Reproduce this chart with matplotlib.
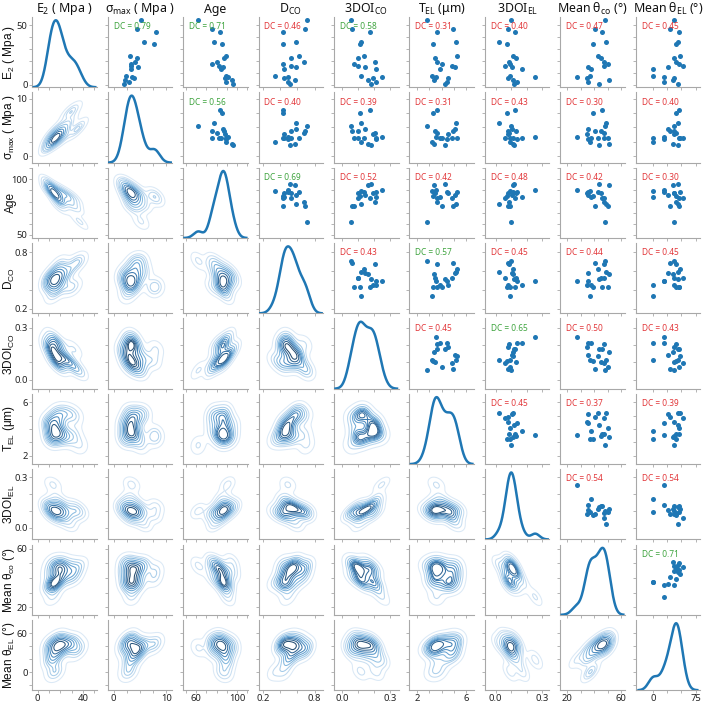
import numpy as np
import matplotlib
matplotlib.use("Agg")
import matplotlib.pyplot as plt
from matplotlib.colors import LinearSegmentedColormap
import seaborn as sns

# ---------------- data (one value per specimen) ----------------
E2 = [54.2, 46.4, 44.1, 35.7, 34.0, 24.2, 22.8, 18.8, 17.4, 16.0, 14.9, 13.2, 7.6, 7.0, 5.9, 4.2, 2.2, 0.8]
sigma_max = [5.2, 4.4, 8.0, 5.8, 7.6, 3.1, 4.4, 4.0, 3.2, 3.2, 4.7, 3.2, 2.4, 3.4, 3.8, 2.1, 2.9, 2.0]
age = [62.0, 75.9, 83.4, 77.8, 85.0, 88.8, 87.5, 80.0, 75.9, 82.8, 85.9, 84.4, 89.4, 90.7, 87.8, 94.8, 88.8, 95.7]
d_co = [0.71, 0.69, 0.43, 0.59, 0.43, 0.62, 0.53, 0.68, 0.43, 0.53, 0.58, 0.45, 0.34, 0.49, 0.45, 0.57, 0.49, 0.52]
doi_co = [0.054, 0.060, 0.177, 0.115, 0.109, 0.135, 0.100, 0.206, 0.076, 0.098, 0.143, 0.212, 0.115, 0.248, 0.191, 0.161, 0.214, 0.179]
t_el = [2.77, 4.89, 3.64, 5.18, 3.27, 5.23, 3.46, 3.59, 4.04, 4.81, 5.10, 3.83, 3.22, 3.56, 4.54, 3.38, 4.41, 4.30]
doi_el = [0.099, 0.083, 0.126, 0.022, 0.074, 0.114, 0.129, 0.087, 0.095, 0.060, 0.103, 0.172, 0.095, 0.256, 0.080, 0.110, 0.137, 0.122]
theta_co = [48.3, 40.5, 45.7, 48.8, 39.5, 42.6, 44.8, 47.1, 50.2, 47.6, 35.7, 37.4, 37.1, 26.9, 35.0, 50.7, 35.2, 43.8]
theta_el = [37.4, 30.2, 45.8, 44.1, 41.3, 47.5, 36.9, 40.2, 45.2, 52.5, 26.2, 0.0, 0.6, 19.0, 36.9, 34.6, 19.0, 44.7]

titles = [r"E$_{\mathregular{2}}$ ( Mpa )", r"σ$_{\mathregular{max}}$ ( Mpa )", "Age",
          r"D$_{\mathregular{CO}}$", r"3DOI$_{\mathregular{CO}}$", r"T$_{\mathregular{EL}}$ (μm)",
          r"3DOI$_{\mathregular{EL}}$", r"Mean θ$_{\mathregular{co}}$ (°)", r"Mean θ$_{\mathregular{EL}}$ (°)"]
ylabels = [r"E$_{\mathregular{2}}$ ( Mpa )", r"σ$_{\mathregular{max}}$ ( Mpa )", "Age",
           r"D$_{\mathregular{CO}}$", r"3DOI$_{\mathregular{CO}}$", r"T$_{\mathregular{EL}}$ (μm)",
           r"3DOI$_{\mathregular{EL}}$", r"Mean θ$_{\mathregular{co}}$ (°)", r"Mean θ$_{\mathregular{EL}}$ (°)"]

# distance correlation shown in the upper triangle, row by row
dc_row0 = [0.79, 0.71, 0.46, 0.58, 0.31, 0.40, 0.47, 0.45]
dc_row1 = [0.56, 0.40, 0.39, 0.31, 0.43, 0.30, 0.40]
dc_row2 = [0.69, 0.52, 0.42, 0.48, 0.42, 0.30]
dc_row3 = [0.43, 0.57, 0.45, 0.44, 0.45]
dc_row4 = [0.45, 0.65, 0.50, 0.43]
dc_row5 = [0.45, 0.37, 0.39]
dc_row6 = [0.54, 0.54]
dc_row7 = [0.71]
dc_rows = [dc_row0, dc_row1, dc_row2, dc_row3, dc_row4, dc_row5, dc_row6, dc_row7]

# tick marks / labels (bottom axes per column, left axes per row)
x_ticks = [[-20, 0, 20, 40, 60, 80], [0, 2.5, 5, 7.5, 10], [50, 60, 70, 80, 90, 100, 110],
           [0.2, 0.4, 0.6, 0.8], [0.0, 0.1, 0.2, 0.3], [2, 3, 4, 5, 6], [0.0, 0.1, 0.2, 0.3],
           [20, 30, 40, 50, 60], [0, 25, 50, 75]]
x_labels = [["0", "", "", "", "40", ""], ["0", "", "", "", "10"], ["", "60", "", "", "", "100", ""],
            ["0.2", "", "", "0.8"], ["0.0", "", "", "0.3"], ["2", "", "", "", "6"], ["0.0", "", "", "0.3"],
            ["20", "", "", "", "60"], ["0", "", "", "75"]]
y_ticks = [[0, 10, 20, 30, 40, 50], [0, 2.5, 5, 7.5, 10], [50, 60, 70, 80, 90, 100, 110],
           [0.2, 0.4, 0.6, 0.8], [0.0, 0.1, 0.2, 0.3], [2, 3, 4, 5, 6], [0.0, 0.1, 0.2, 0.3],
           [20, 30, 40, 50, 60], [-20, 0, 20, 40, 60]]
y_labels = [["0", "", "", "", "", "50"], ["0", "", "", "", "10"], ["50", "", "", "", "", "100", ""],
            ["0.2", "", "", "0.8"], ["0.0", "", "", "0.3"], ["2", "", "", "", "6"], ["0.0", "", "", "0.3"],
            ["20", "", "", "", "60"], ["", "0", "", "", "60"]]

data = [E2, sigma_max, age, d_co, doi_co, t_el, doi_el, theta_co, theta_el]
n = len(data)

plt.rcParams["font.family"] = ["Noto Sans", "DejaVu Sans"]
plt.rcParams["mathtext.fontset"] = "custom"
plt.rcParams["mathtext.rm"] = "Noto Sans"
plt.rcParams["axes.unicode_minus"] = False

blue = "#1f77b4"
spine_col = "#a8a8a8"
kde_cmap = LinearSegmentedColormap.from_list(
    "blues_dark", ["#dbe9f6", "#b9d6ee", "#8fbfe2", "#62a1d2", "#3f7fb5", "#2c5e8a", "#213e5a"])

fig, axes = plt.subplots(n, n, figsize=(7.07, 7.05), dpi=100, sharex="col", sharey="row")
fig.subplots_adjust(left=0.0457, right=0.9904, bottom=0.021, top=0.976, wspace=0.169, hspace=0.072)

for i in range(n):
    for j in range(n):
        ax = axes[i, j]
        for s in ("top", "right"):
            ax.spines[s].set_visible(False)
        for s in ("left", "bottom"):
            ax.spines[s].set_color(spine_col)
            ax.spines[s].set_linewidth(0.8)
        if i < j:
            ax.scatter(data[j], data[i], s=13, color=blue, linewidths=0, zorder=3)
            dc = dc_rows[i][j - i - 1]
            col = "#3fa43f" if dc > 0.55 else "#e2383b"
            ax.text(0.09, 0.86, f"DC = {dc:.2f}", transform=ax.transAxes, fontsize=6,
                    color=col, ha="left", va="center", zorder=4)
        elif i > j:
            sns.kdeplot(x=data[j], y=data[i], ax=ax, cmap=kde_cmap, levels=10, linewidths=0.75)
        else:
            tw = ax.twinx()
            sns.kdeplot(x=data[i], ax=tw, color=blue, lw=1.8)
            tw.set_ylim(bottom=0)
            tw.yaxis.set_visible(False)
            for s in tw.spines.values():
                s.set_visible(False)

# ticks after all plotting (so autoscaled limits are final)
for j in range(n):
    ax = axes[n - 1, j]
    lo, hi = ax.get_xlim()
    tv = [(t, l) for t, l in zip(x_ticks[j], x_labels[j]) if lo <= t <= hi]
    ax.set_xticks([t for t, _ in tv])
    ax.set_xticklabels([l for _, l in tv])
    ax.set_xlim(lo, hi)
for i in range(n):
    ax = axes[i, 0]
    lo, hi = ax.get_ylim()
    tv = [(t, l) for t, l in zip(y_ticks[i], y_labels[i]) if lo <= t <= hi]
    ax.set_yticks([t for t, _ in tv])
    ax.set_yticklabels([l for _, l in tv])
    ax.set_ylim(lo, hi)

for i in range(n):
    for j in range(n):
        ax = axes[i, j]
        ax.tick_params(axis="both", length=2.2, width=0.6, color=spine_col, labelsize=6.8,
                       labelcolor="#222222", pad=1.2)
        ax.tick_params(axis="x", pad=0.6)
        ax.set_xlabel("")
        ax.set_ylabel("")

for j in range(n):
    axes[0, j].set_title(titles[j], fontsize=8.9, pad=2.5, color="#111111")
for i in range(n):
    ax = axes[i, 0]
    ax.set_ylabel(ylabels[i], fontsize=8.6, family=["Liberation Sans", "DejaVu Sans"], color="#111111")
    ax.yaxis.set_label_coords(-0.245, 0.5)

fig.savefig("out.png", dpi=100)
